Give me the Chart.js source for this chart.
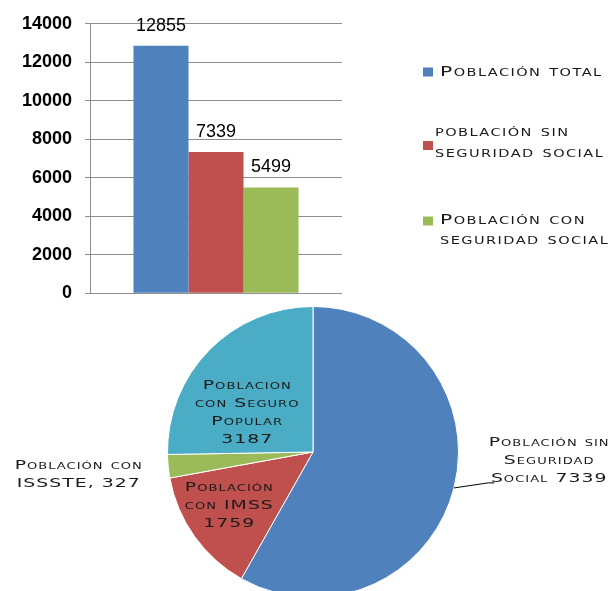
<!DOCTYPE html>
<html>
<head>
<meta charset="utf-8">
<script src="https://cdn.jsdelivr.net/npm/chart.js@4.4.0/dist/chart.umd.min.js"></script>
<style>
  html, body { margin: 0; padding: 0; background: #fff; overflow: hidden; }
  #wrap { position: relative; width: 614px; height: 591px; }
  #barChart { position: absolute; left: 0; top: 0; }
  #pieChart { position: absolute; left: 0; top: 300px; }
</style>
</head>
<body>
<div id="wrap">
  <canvas id="barChart" width="614" height="317"></canvas>
  <canvas id="pieChart" width="614" height="300"></canvas>
</div>
<script>
// bar chart data
const barSeries = ['Población total', 'población sin seguridad social', 'Población con seguridad social'];
const barLegendLines = [['Población total'], ['población sin', 'seguridad social'], ['Población con', 'seguridad social']];
const barValues = [12855, 7339, 5499];
const barColors = ['#4F81BD', '#C0504D', '#9BBB59'];
const yMax = 14000;
const yStep = 2000;

// pie chart data
const pieLabels = ['Población sin Seguridad Social', 'Población con IMSS', 'Población con ISSSTE', 'Poblacion con Seguro Popular'];
const pieValues = [7339, 1759, 327, 3187];
const pieColors = ['#4F81BD', '#C0504D', '#9BBB59', '#4BACC6'];
const pieLabelLines = [
  ['Población sin', 'Seguridad', 'Social {v}'],
  ['Población', 'con IMSS', '{v}'],
  ['Población con', 'ISSSTE, {v}'],
  ['Poblacion', 'con Seguro', 'Popular', '{v}']
];

// small caps text, stretched wide like the original font
function drawSC(ctx, text, x, y, size, sx, spacing, align) {
  ctx.save();
  ctx.font = 'small-caps ' + size + 'px "DejaVu Sans"';
  if ('fontVariantCaps' in ctx) ctx.fontVariantCaps = 'small-caps';
  if ('letterSpacing' in ctx) ctx.letterSpacing = spacing + 'px';
  ctx.textBaseline = 'middle';
  ctx.textAlign = 'left';
  ctx.fillStyle = '#1a1a1a';
  const w = ctx.measureText(text).width * sx;
  let left = x;
  if (align === 'center') left = x - w / 2;
  ctx.translate(left, y);
  ctx.scale(sx, 1);
  ctx.fillText(text, 0, 0);
  ctx.restore();
}

// value labels + legend for the bar chart
const barExtras = {
  id: 'barExtras',
  afterDatasetsDraw(chart) {
    const ctx = chart.ctx;
    ctx.save();
    ctx.font = '18px "Liberation Sans", Arial, sans-serif';
    ctx.fillStyle = '#000';
    ctx.textAlign = 'center';
    ctx.textBaseline = 'middle';
    chart.data.datasets.forEach((ds, i) => {
      const bar = chart.getDatasetMeta(i).data[0];
      ctx.fillText(String(ds.data[0]), bar.x, bar.y - 20);
    });
    ctx.restore();
  },
  afterDraw(chart) {
    const ctx = chart.ctx;
    const r = chart.chartArea.right;
    // legend layout: square centre y, text x offset, line centres
    const squareY = [72, 145.5, 221];
    const textX = [98, 93, 98];
    const lineY = [[72], [132, 153], [220, 240]];
    barLegendLines.forEach((lines, i) => {
      ctx.fillStyle = barColors[i];
      ctx.fillRect(r + 81, squareY[i] - 4.5, 10, 9);
      lines.forEach((t, j) => drawSC(ctx, t, r + textX[i], lineY[i][j], 14, 1.45, 1.0, 'left'));
    });
  }
};

new Chart(document.getElementById('barChart'), {
  type: 'bar',
  data: {
    labels: [''],
    datasets: barSeries.map((s, i) => ({
      label: s,
      data: [barValues[i]],
      backgroundColor: barColors[i],
      borderWidth: 0,
      categoryPercentage: 0.655,
      barPercentage: 1
    }))
  },
  options: {
    responsive: false,
    animation: false,
    layout: { padding: { top: 23, right: 272, bottom: 12, left: 0 } },
    plugins: { legend: { display: false }, tooltip: { enabled: false } },
    scales: {
      x: { display: false },
      y: {
        min: 0,
        max: yMax,
        ticks: {
          stepSize: yStep,
          padding: 13,
          color: '#000',
          font: { family: '"Liberation Sans", Arial, sans-serif', size: 18, weight: 'bold' },
          callback: v => String(v)
        },
        grid: { color: '#8e8e8e', tickLength: 5 },
        border: { color: '#8e8e8e' },
        afterFit: s => { s.width = 90; }
      }
    }
  },
  plugins: [barExtras]
});

// labels around / inside the pie
const pieText = {
  id: 'pieText',
  afterDatasetsDraw(chart) {
    const ctx = chart.ctx;
    const arc = chart.getDatasetMeta(0).data[0];
    const cx = arc.x, cy = arc.y, rad = arc.outerRadius;
    const pos = [[1.623, 0.062], [-0.575, 0.370], [-1.610, 0.158], [-0.452, -0.274]];
    const lh = 18;
    pieLabelLines.forEach((lines, i) => {
      const x = cx + pos[i][0] * rad;
      const y0 = cy + pos[i][1] * rad - (lines.length - 1) * lh / 2;
      lines.forEach((t, j) => {
        drawSC(ctx, t.replace('{v}', pieValues[i]), x, y0 + j * lh, 13, 1.45, 0.7, 'center');
      });
    });
    // leader line for the big slice
    ctx.save();
    ctx.strokeStyle = '#000';
    ctx.lineWidth = 1;
    ctx.beginPath();
    ctx.moveTo(cx + 0.969 * rad, cy + 0.247 * rad);
    ctx.lineTo(cx + 1.205 * rad, cy + 0.212 * rad);
    ctx.lineTo(cx + 1.247 * rad, cy + 0.212 * rad);
    ctx.stroke();
    ctx.restore();
  }
};

new Chart(document.getElementById('pieChart'), {
  type: 'pie',
  data: {
    labels: pieLabels,
    datasets: [{
      data: pieValues,
      backgroundColor: pieColors,
      borderColor: '#ffffff',
      borderWidth: 1
    }]
  },
  options: {
    responsive: false,
    animation: false,
    layout: { padding: { left: 167, right: 155, top: 6, bottom: 2 } },
    plugins: { legend: { display: false }, tooltip: { enabled: false } }
  },
  plugins: [pieText]
});
</script>
</body>
</html>
